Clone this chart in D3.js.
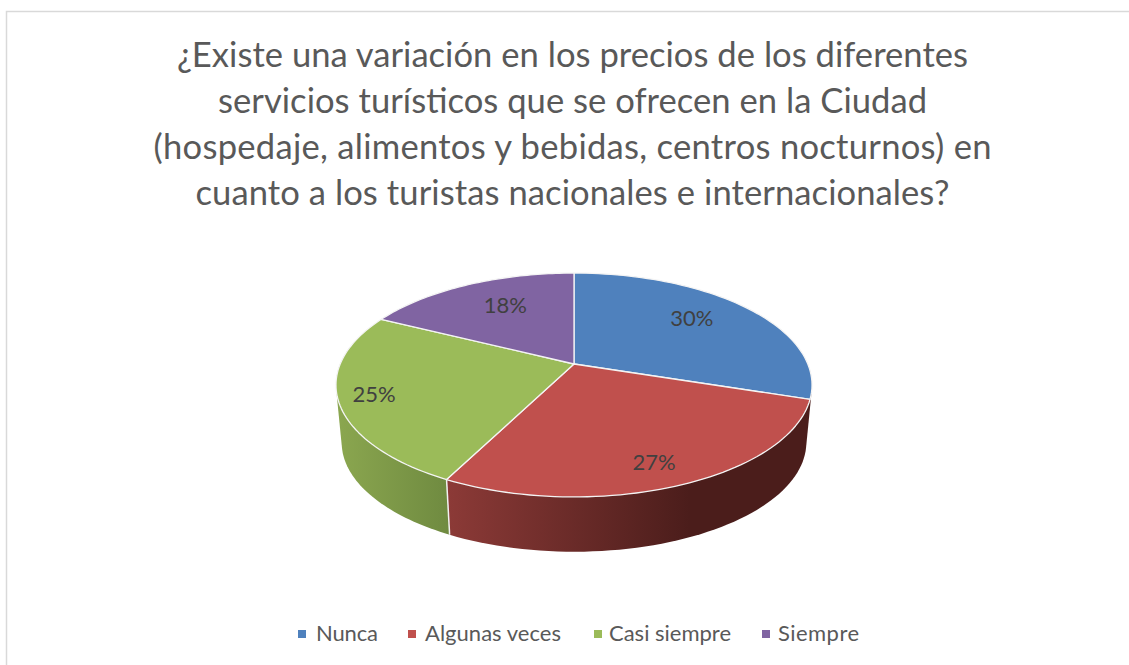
<!DOCTYPE html>
<html><head><meta charset="utf-8">
<style>html,body{margin:0;padding:0;background:#fff}svg{display:block}text{font-family:Lato,"Open Sans",sans-serif}</style>
<script src="https://cdn.jsdelivr.net/npm/d3@7/dist/d3.min.js"></script></head>
<body><svg id="c" width="1129" height="665"></svg>
<script>
const categories=["Nunca","Algunas veces","Casi siempre","Siempre"];
const values=[30,27.5,24.9,17.6];
const labels=["30%","27%","25%","18%"];
const topColors=["#4f81bd","#c0504d","#9bbb59","#8064a2"];
const titleLines=["¿Existe una variación en los precios de los diferentes","servicios turísticos que se ofrecen en la Ciudad","(hospedaje, alimentos y bebidas, centros nocturnos) en","cuanto a los turistas nacionales e internacionales?"];
const titleWidths=[791,709,838,754];
const labelRadius=[.714,.835,.855,.681];
const labelShift=[-4,2,0,3];
const legendSquares=[298,408,594,762];
const legendTexts=[316,425,609,778];
const legendWidths=[62,136,122,81];

const W=1129,H=665,cx=574,cy=364,rx=233.8,ry=108,k=.1875,depth=58,shrink=.976;
const svg=d3.select("#c");
const defs=svg.append("defs");
const g1=defs.append("linearGradient").attr("id","sideRed").attr("gradientUnits","userSpaceOnUse").attr("x1",447).attr("x2",690).attr("y1",0).attr("y2",0);
g1.append("stop").attr("offset",0).attr("stop-color","#8c3a37");
g1.append("stop").attr("offset",1).attr("stop-color","#4b1d1b");
const g2=defs.append("linearGradient").attr("id","sideGreen").attr("gradientUnits","userSpaceOnUse").attr("x1",340).attr("x2",450).attr("y1",0).attr("y2",0);
g2.append("stop").attr("offset",0).attr("stop-color","#8aa64f");
g2.append("stop").attr("offset",1).attr("stop-color","#6f8a40");

svg.append("path").attr("d",`M6.5,${H}V11.5H${W}`).attr("fill","none").attr("stroke","#d9d9d9").attr("stroke-width",1.5);

svg.append("g").selectAll("text").data(titleLines).join("text")
 .attr("x",572.5).attr("y",(d,i)=>67+i*46).attr("text-anchor","middle").attr("font-size",34.6).attr("fill","#595959")
 .attr("textLength",(d,i)=>titleWidths[i]).attr("lengthAdjust","spacing").text(d=>d);

function proj(a,r=1){const u=r*Math.sin(a),v=-r*Math.cos(a),w=1-k*v;return [cx+rx*u/w,cy+ry*v/w];}
function low(a){const [x,y]=proj(a);return [cx+(x-cx)*shrink,cy+(y-cy)*shrink+depth];}
const arcs=d3.pie().sort(null).value(d=>d)(values);
const line=d3.line();
function samples(a0,a1){return d3.range(0,61).map(i=>a0+(a1-a0)*i/60);}

const ext=10*Math.PI/180;
const sides=[{s:arcs[1].startAngle-ext,e:arcs[1].endAngle,f:"url(#sideRed)"},{s:arcs[2].startAngle,e:Math.min(arcs[2].endAngle,1.5*Math.PI+ext),f:"url(#sideGreen)"}];
svg.append("g").selectAll("path").data(sides).join("path")
 .attr("d",d=>line(d3.polygonHull(samples(d.s,d.e).map(a=>proj(a)).concat(samples(d.s,d.e).map(low))))+"Z")
 .attr("fill",d=>d.f);
svg.append("path").attr("d",line([proj(arcs[2].startAngle),low(arcs[2].startAngle)])).attr("stroke","#f2f2f2").attr("stroke-width",1.5).attr("fill","none");

svg.append("g").selectAll("path").data(arcs).join("path")
 .attr("d",d=>line([[cx,cy]].concat(samples(d.startAngle,d.endAngle).map(a=>proj(a))))+"Z")
 .attr("fill",(d,i)=>topColors[i]).attr("stroke","#f4f4f4").attr("stroke-width",1.3).attr("stroke-linejoin","round");

svg.append("g").selectAll("text").data(arcs).join("text")
 .attr("x",(d,i)=>proj((d.startAngle+d.endAngle)/2+labelShift[i]*Math.PI/180,labelRadius[i])[0])
 .attr("y",(d,i)=>proj((d.startAngle+d.endAngle)/2+labelShift[i]*Math.PI/180,labelRadius[i])[1]+7.5)
 .attr("text-anchor","middle").attr("font-size",22).attr("fill","#404040").text((d,i)=>labels[i]);

const lg=svg.append("g");
lg.selectAll("rect").data(categories).join("rect").attr("x",(d,i)=>legendSquares[i]).attr("y",630).attr("width",8).attr("height",8).attr("fill",(d,i)=>topColors[i]);
lg.selectAll("text").data(categories).join("text").attr("x",(d,i)=>legendTexts[i]).attr("y",641).attr("font-size",22).attr("fill","#595959")
 .attr("textLength",(d,i)=>legendWidths[i]).attr("lengthAdjust","spacing").text(d=>d);
</script></body></html>
